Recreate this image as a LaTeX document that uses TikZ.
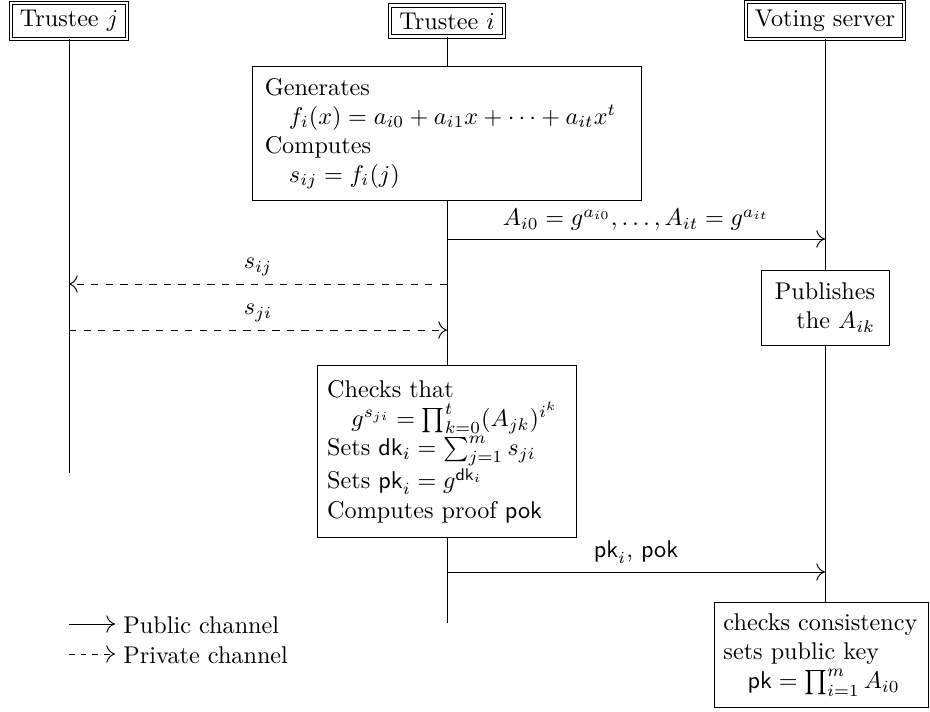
\documentclass[tikz,border=0pt]{standalone}
\usepackage{amsmath,amssymb}
\usetikzlibrary{arrows.meta}
\begin{document}
\begin{tikzpicture}[x=0.4132pt,y=-0.4132pt,
  actor/.style={draw, double, double distance=0.9pt, inner sep=0pt, align=center},
  procbox/.style={draw, inner sep=0pt, align=left},
  rprocbox/.style={draw, inner sep=0pt, align=right},
  tip/.style={-{Computer Modern Rightarrow[length=3.6pt,width=7.2pt]}},
  msg/.style={tip},
  priv/.style={tip, dashed},
  lbl/.style={above, inner sep=3.3pt}]
\useasboundingbox (0,0) rectangle (930,711);
% actors
\node[actor, minimum width=47.9pt, minimum height=14.6pt] (tj) at (69,21) {Trustee $j$};
\node[actor, minimum width=47.0pt, minimum height=12.8pt] (ti) at (447,21) {Trustee $i$};
\node[actor, minimum width=65.6pt, minimum height=15.2pt] (vs) at (825,20.5) {Voting server};
% boxes
\node[procbox, minimum width=161.1pt, minimum height=55pt, text width=150.6pt] (gen) at (447,133.5)
  {Generates\\\quad$f_i(x) = a_{i0} + a_{i1}x + \cdots + a_{it}x^t$\\Computes\\\quad$s_{ij} = f_i(j)$};
\node[rprocbox, minimum width=52.9pt, minimum height=31pt] (pub) at (825,307.5)
  {Publishes\\the $A_{ik}$};
\node[procbox, minimum width=107.4pt, minimum height=70.7pt, text width=99pt] (chk) at (447,451.5)
  {Checks that\\\quad$g^{s_{ji}} = \prod_{k=0}^{t}(A_{jk})^{i^k}$\\Sets $\mathsf{dk}_i = \sum_{j=1}^{m} s_{ji}$\\Sets $\mathsf{pk}_i = g^{\mathsf{dk}_i}$\\Computes proof $\mathsf{pok}$};
\node[procbox, minimum width=88.8pt, minimum height=43pt, text width=81pt] (cons) at (821.5,655)
  {checks consistency\\sets public key\\\quad$\mathsf{pk} = \prod_{i=1}^{m} A_{i0}$};
% lifeline ends and message points
\coordinate (tjend) at (69,473);
\coordinate (tiend) at (447,623);
\coordinate (ti1) at (447,239); \coordinate (vs1) at (825,239);
\coordinate (ti2) at (447,284); \coordinate (tj2) at (69,284);
\coordinate (tj3) at (69,330);  \coordinate (ti3) at (447,330);
\coordinate (ti4) at (447,572); \coordinate (vs4) at (825,572);
% lifelines
\draw (tj) -- (tjend);
\draw (ti) -- (gen);
\draw (gen) -- (chk);
\draw (chk) -- (tiend);
\draw (vs) -- (pub);
\draw (pub) -- (pub |- cons.north);
% messages
\draw[msg] (ti1) -- node[lbl] {$A_{i0} = g^{a_{i0}}, \ldots, A_{it} = g^{a_{it}}$} (vs1);
\draw[priv] (ti2) -- node[lbl] {$s_{ij}$} (tj2);
\draw[priv] (tj3) -- node[lbl] {$s_{ji}$} (ti3);
\draw[msg] (ti4) -- node[lbl] {$\mathsf{pk}_i$, $\mathsf{pok}$} (vs4);
% legend
\coordinate (l1a) at (69,624); \coordinate (l1b) at (115,624);
\coordinate (l2a) at (69,654); \coordinate (l2b) at (115,654);
\draw[msg] (l1a) -- (l1b);
\draw[tip, dash pattern=on 2.4pt off 2.4pt] (l2a) -- (l2b);
\node[anchor=base west, inner sep=0pt] (leg1) at (123,633) {Public channel};
\node[anchor=base west, inner sep=0pt] (leg2) at (123,663) {Private channel};
\end{tikzpicture}
\end{document}
